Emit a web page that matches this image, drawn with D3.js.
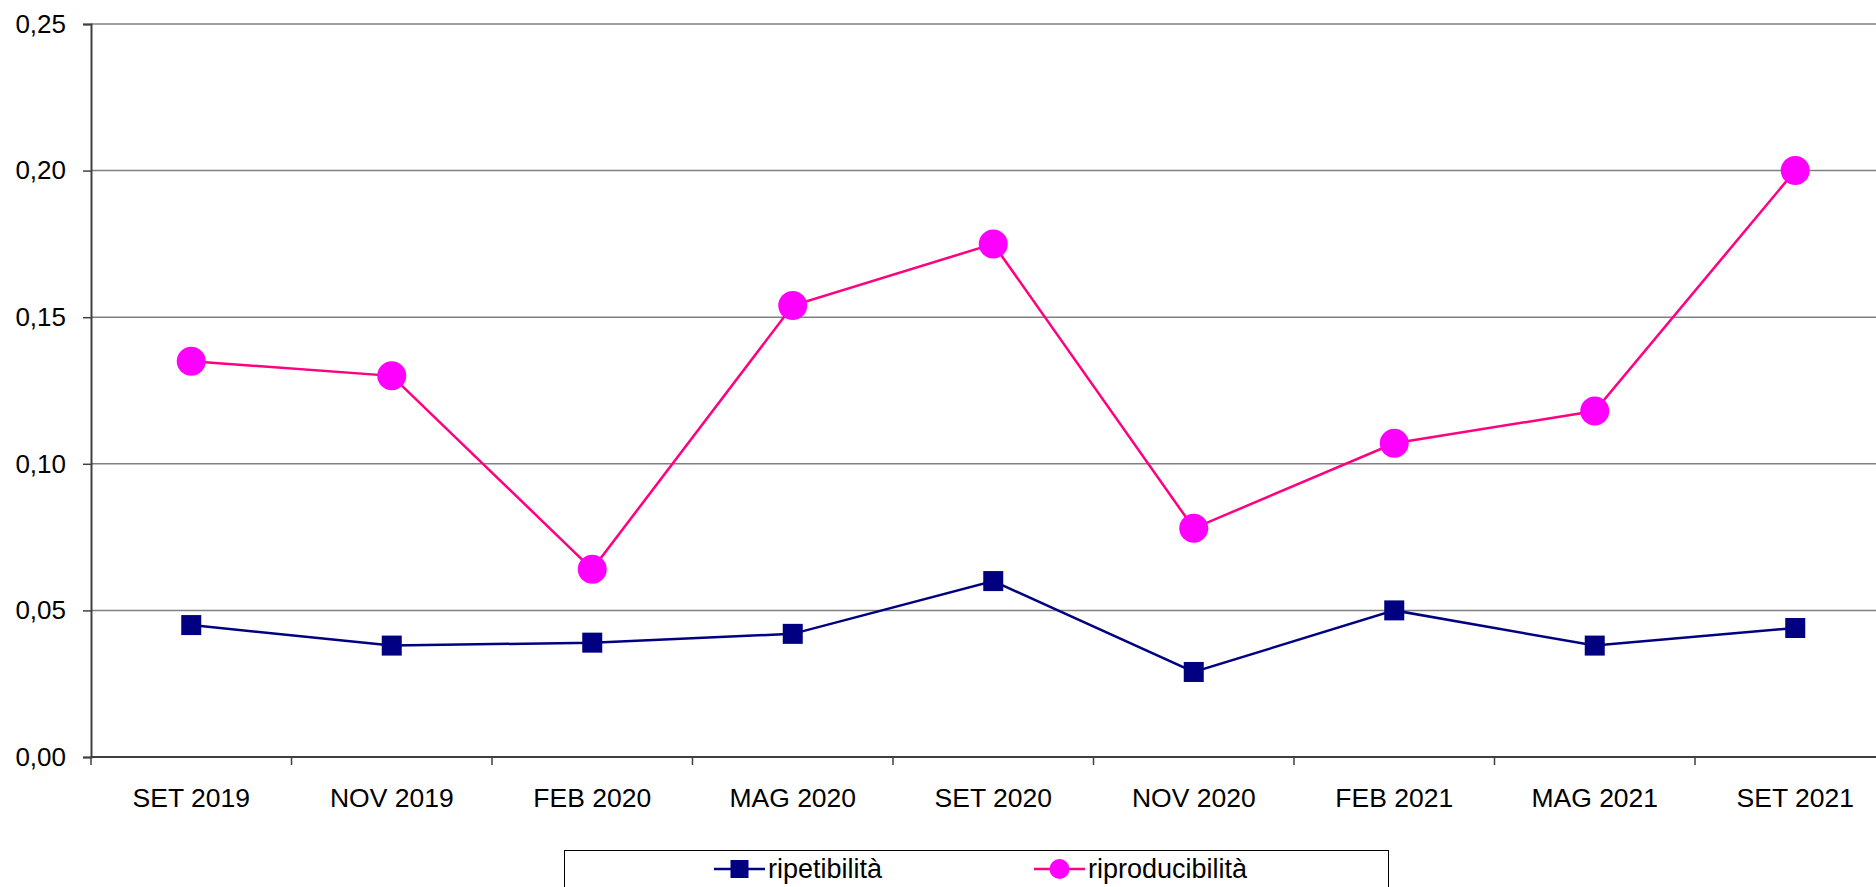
<!DOCTYPE html>
<html>
<head>
<meta charset="utf-8">
<script src="https://cdn.jsdelivr.net/npm/d3@7"></script>
<style>
  body { margin: 0; background: #fff; }
  svg { display: block; font-family: "Liberation Sans", Arial, sans-serif; }
</style>
</head>
<body>
<div id="chart"></div>
<script>
// data
const categories = ["SET 2019", "NOV 2019", "FEB 2020", "MAG 2020", "SET 2020", "NOV 2020", "FEB 2021", "MAG 2021", "SET 2021"];
const ripetibilita = [0.045, 0.038, 0.039, 0.042, 0.060, 0.029, 0.050, 0.038, 0.044];
const riproducibilita = [0.135, 0.130, 0.064, 0.154, 0.175, 0.078, 0.107, 0.118, 0.200];
const yTicks = [0, 0.05, 0.10, 0.15, 0.20, 0.25];

const W = 1876, H = 887;
const margin = {top: 24, left: 91, bottom: 130};
const bandW = 200.5;

const svg = d3.select("#chart").append("svg")
    .attr("width", W)
    .attr("height", H);

// x: one band per month, the chart runs past the right edge
const x = d3.scaleBand()
    .domain(categories)
    .range([margin.left, margin.left + bandW * categories.length]);

const y = d3.scaleLinear()
    .domain([0, 0.25])
    .range([H - margin.bottom, margin.top]);

// horizontal grid lines
svg.append("g")
  .selectAll("line")
  .data(yTicks.slice(1))
  .join("line")
    .attr("x1", margin.left)
    .attr("x2", W)
    .attr("y1", d => y(d))
    .attr("y2", d => y(d))
    .attr("stroke", "#808080")
    .attr("stroke-width", 1.5);

// y axis
const yAxis = svg.append("g")
    .attr("transform", `translate(${margin.left},0)`)
    .call(d3.axisLeft(y)
        .tickValues(yTicks)
        .tickSize(8)
        .tickPadding(17)
        .tickFormat(d => d.toFixed(2).replace(".", ",")));
yAxis.select(".domain").attr("stroke", "#404040").attr("stroke-width", 2);
yAxis.selectAll(".tick line").attr("stroke", "#404040").attr("stroke-width", 1.5);
yAxis.selectAll(".tick text")
    .attr("font-size", 26)
    .attr("font-family", "Liberation Sans, Arial, sans-serif")
    .attr("fill", "#000");

// x axis: labels centered in bands, ticks on band edges
const xAxis = svg.append("g")
    .attr("transform", `translate(0,${y(0)})`)
    .call(d3.axisBottom(x).tickSize(0).tickPadding(31));
xAxis.select(".domain").remove();
xAxis.selectAll(".tick text")
    .attr("font-size", 26.5)
    .attr("font-family", "Liberation Sans, Arial, sans-serif")
    .attr("fill", "#000");

svg.append("line")
    .attr("x1", margin.left).attr("x2", W)
    .attr("y1", y(0)).attr("y2", y(0))
    .attr("stroke", "#404040").attr("stroke-width", 2);

svg.append("g")
  .selectAll("line")
  .data(categories)
  .join("line")
    .attr("x1", d => x(d))
    .attr("x2", d => x(d))
    .attr("y1", y(0))
    .attr("y2", y(0) + 8)
    .attr("stroke", "#404040")
    .attr("stroke-width", 1.5);

const cx = (d, i) => x(categories[i]) + x.bandwidth() / 2;

const line = d3.line()
    .x((d, i) => cx(d, i))
    .y(d => y(d));

// ripetibilità
svg.append("path")
    .datum(ripetibilita)
    .attr("fill", "none")
    .attr("stroke", "#000080")
    .attr("stroke-width", 2.5)
    .attr("d", line);

svg.append("g")
  .selectAll("rect")
  .data(ripetibilita)
  .join("rect")
    .attr("x", (d, i) => cx(d, i) - 10)
    .attr("y", d => y(d) - 10)
    .attr("width", 20)
    .attr("height", 20)
    .attr("fill", "#000080");

// riproducibilità
svg.append("path")
    .datum(riproducibilita)
    .attr("fill", "none")
    .attr("stroke", "#FF0080")
    .attr("stroke-width", 2.5)
    .attr("d", line);

svg.append("g")
  .selectAll("circle")
  .data(riproducibilita)
  .join("circle")
    .attr("cx", (d, i) => cx(d, i))
    .attr("cy", d => y(d))
    .attr("r", 14.5)
    .attr("fill", "#FF00FF");

// legend
const legend = svg.append("g");
legend.append("rect")
    .attr("x", 564.5)
    .attr("y", 850.5)
    .attr("width", 824)
    .attr("height", 60)
    .attr("fill", "#fff")
    .attr("stroke", "#000")
    .attr("stroke-width", 1);

const ly = 869;
const items = [
  {name: "ripetibilità", color: "#000080", marker: "square", x0: 714},
  {name: "riproducibilità", color: "#FF0080", fill: "#FF00FF", marker: "circle", x0: 1034}
];
items.forEach(it => {
  const g = legend.append("g");
  g.append("line")
      .attr("x1", it.x0).attr("x2", it.x0 + 51)
      .attr("y1", ly).attr("y2", ly)
      .attr("stroke", it.color).attr("stroke-width", 2.5);
  if (it.marker === "square") {
    g.append("rect")
        .attr("x", it.x0 + 25.5 - 9).attr("y", ly - 9)
        .attr("width", 18).attr("height", 18)
        .attr("fill", it.color);
  } else {
    g.append("circle")
        .attr("cx", it.x0 + 25.5).attr("cy", ly)
        .attr("r", 10)
        .attr("fill", it.fill);
  }
  g.append("text")
      .attr("x", it.x0 + 54)
      .attr("y", ly)
      .attr("dy", "0.35em")
      .attr("font-size", 27)
      .attr("fill", "#000")
      .text(it.name);
});
</script>
</body>
</html>
